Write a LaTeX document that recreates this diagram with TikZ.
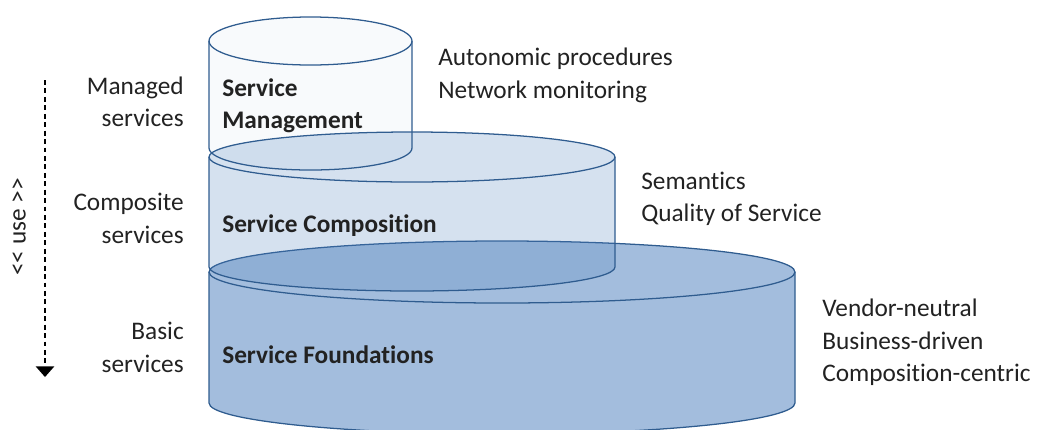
\documentclass[tikz,border=0pt]{standalone}
\usepackage{fontspec}
\setmainfont[Ligatures=NoCommon]{Carlito}
\usetikzlibrary{arrows.meta}
\definecolor{cylline}{HTML}{2F5C8F}
\definecolor{cylfill}{HTML}{4F81BD}
\definecolor{txt}{HTML}{222222}

\begin{document}
\begin{tikzpicture}[x=0.025cm, y=-0.025cm,
                every node/.style={inner sep=0pt, text=txt, font=\fontsize{18}{23}\selectfont},
                cyl_style/.style={draw=cylline, line width=0.9pt, fill=cylfill},
                title/.style={font=\fontsize{18}{23}\selectfont\bfseries, anchor=west, align=left},
                side/.style={anchor=west, align=left},
                layer/.style={anchor=east, align=right}]
                \tikzset{use arrow/.style={draw=black, line width=0.8pt, dash pattern=on 3.5pt off 2.5pt, -{Triangle[width=13pt,length=7.5pt]}}}
                \useasboundingbox (0,0) rectangle (1037,429);
                % foundations
                \path [cyl_style, fill opacity=0.52] (209,272) -- (209,403) arc (180:0:293 and 31) -- (795,272) arc (0:-180:293 and 31) -- cycle;
                \draw [cylline, line width=0.9pt] (209,272) arc (180:0:293 and 31);
                % composition
                \path [cyl_style, fill opacity=0.24] (209,157) -- (209,267) arc (180:0:203 and 24) -- (615,157) arc (0:-180:203 and 25) -- cycle;
                \draw [cylline, line width=0.9pt] (209,157) arc (180:0:203 and 25);
                % management
                \path [cyl_style, fill opacity=0.04] (209,41) -- (209,148) arc (180:0:101.5 and 22) -- (412,41) arc (0:-180:101.5 and 24) -- cycle;
                \draw [cylline, line width=0.9pt] (209,41) arc (180:0:101.5 and 24);
                % labels in the cylinders
                \node [title] (mgmt) at (222,106) {Service\\Management};
                \node [title] (comp) at (222,226) {Service Composition};
                \node [title] (found) at (222,355) {Service Foundations};
                % properties
                \node [side] (mgmtprops) at (438,75.5) {Autonomic procedures\\Network monitoring};
                \node [side] (compprops) at (641,198.5) {Semantics\\Quality of Service};
                \node [side] (foundprops) at (822,342.5) {Vendor-neutral\\Business-driven\\Composition-centric};
                % service layers
                \node [layer] (managed) at (184,102) {Managed\\services};
                \node [layer] (composite) at (184,218.5) {Composite\\services};
                \node [layer] (basic) at (184,347.5) {Basic\\services};
                % use arrow
                \coordinate (usetop) at (45,80);
                \coordinate (usebot) at (45,377);
                \draw [use arrow] (usetop) -- (usebot);
                \node [rotate=90] (use) at (19,227) {<{}< use >{}>};
            \end{tikzpicture}
\end{document}
